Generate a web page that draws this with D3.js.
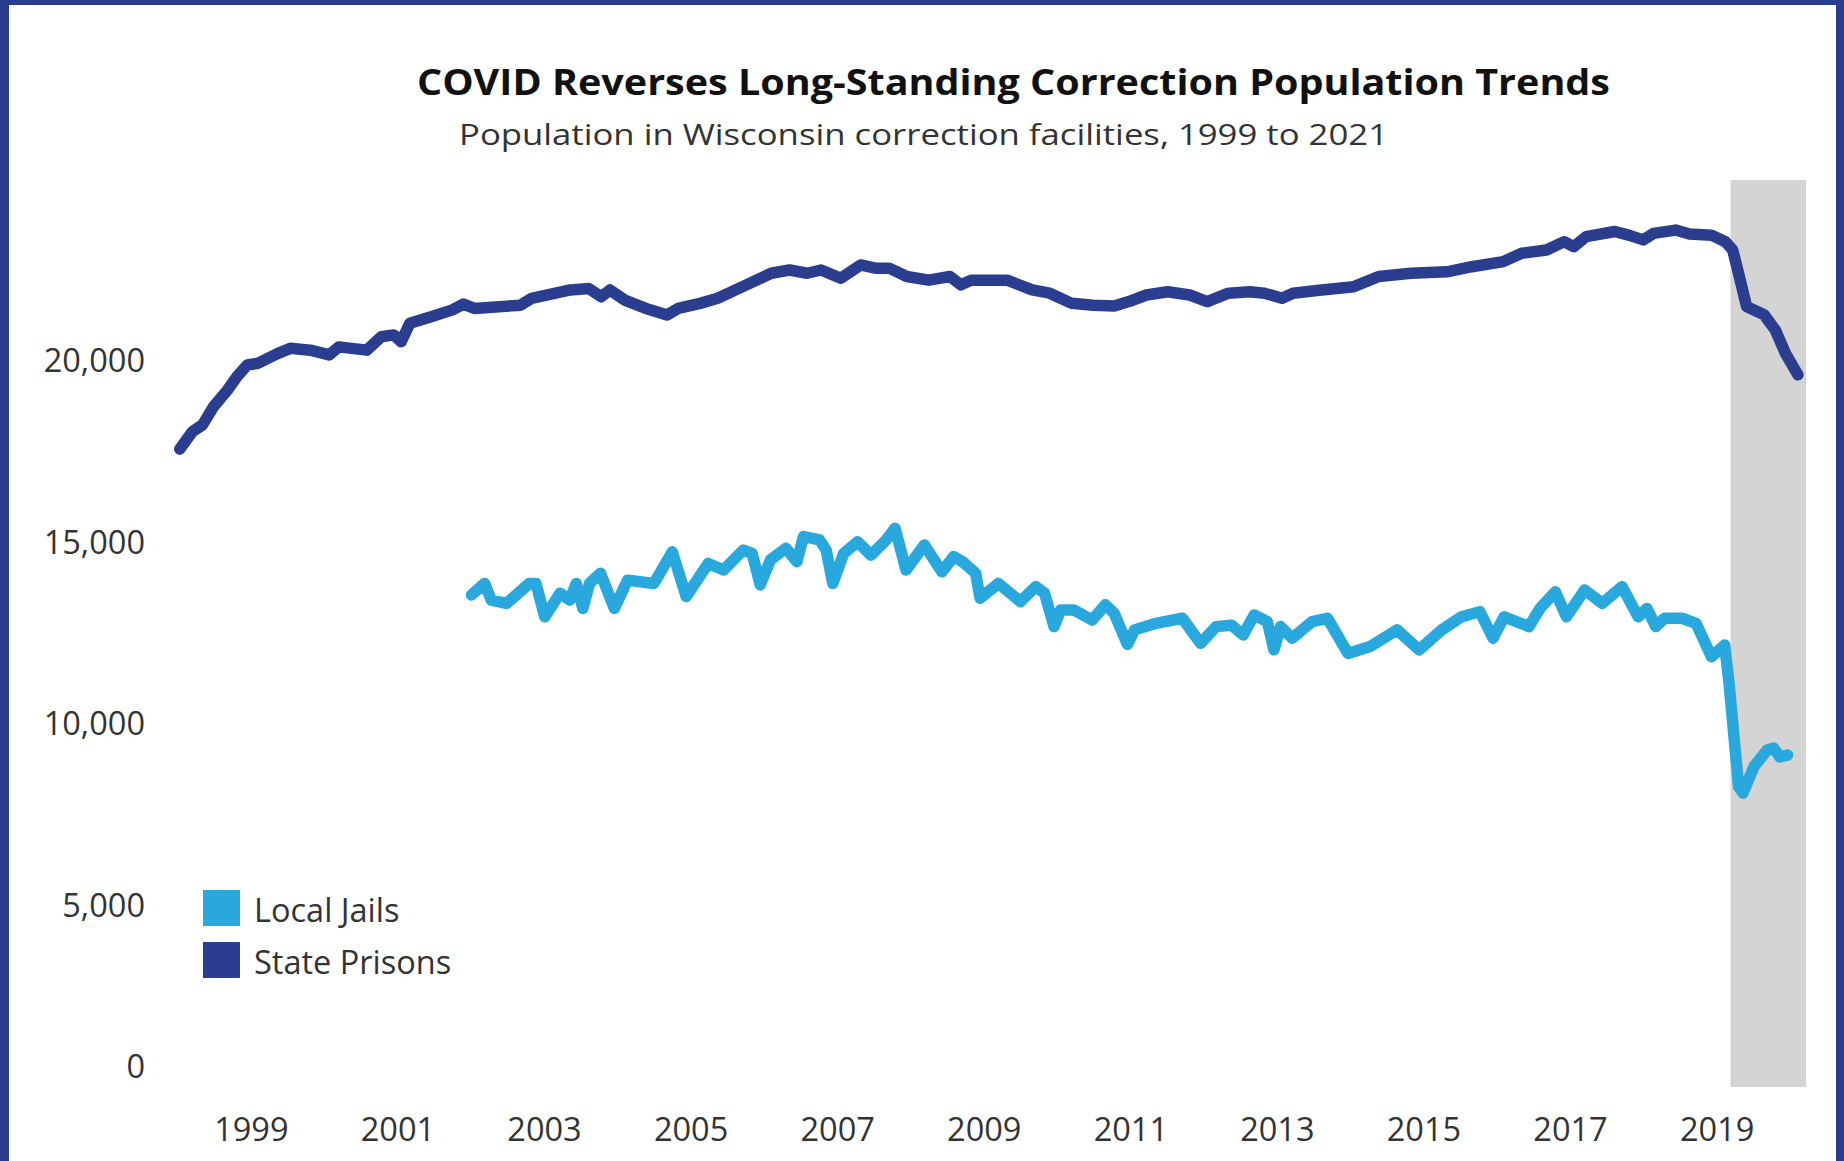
<!DOCTYPE html>
<html>
<head>
<meta charset="utf-8">
<script src="https://cdn.jsdelivr.net/npm/d3@7"></script>
<style>
  html, body { margin: 0; padding: 0; background: #ffffff; }
  svg { display: block; }
</style>
</head>
<body>
<svg id="chart" width="1844" height="1161"></svg>
<script>
// ---------------- DATA (axis-year frame, values = people) ----------------
const seriesNames = ["Local Jails", "State Prisons"];
const xTickYears = [1999, 2001, 2003, 2005, 2007, 2009, 2011, 2013, 2015, 2017, 2019];
const yTickValues = [0, 5000, 10000, 15000, 20000];
const covidBand = [2019.19, 2020.22];

const prisonDates = [1998.03, 1998.20, 1998.34, 1998.49, 1998.68, 1998.81, 1998.95, 1999.10, 1999.37, 1999.54,
  1999.81, 2000.07, 2000.20, 2000.58, 2000.78, 2000.95, 2001.05, 2001.17, 2001.46, 2001.75,
  2001.90, 2002.05, 2002.68, 2002.83, 2003.36, 2003.61, 2003.78, 2003.90, 2004.10, 2004.39,
  2004.68, 2004.83, 2005.13, 2005.37, 2005.71, 2006.10, 2006.35, 2006.59, 2006.78, 2007.05,
  2007.32, 2007.52, 2007.71, 2007.95, 2008.25, 2008.54, 2008.69, 2008.83, 2009.32, 2009.66,
  2009.90, 2010.20, 2010.49, 2010.78, 2010.98, 2011.22, 2011.51, 2011.81, 2012.05, 2012.34,
  2012.63, 2012.83, 2013.07, 2013.22, 2013.61, 2014.05, 2014.39, 2014.83, 2015.32, 2015.66,
  2016.09, 2016.34, 2016.68, 2016.92, 2017.05, 2017.22, 2017.61, 2017.80, 2018.00, 2018.14,
  2018.44, 2018.63, 2018.93, 2019.12, 2019.22, 2019.31, 2019.41, 2019.56, 2019.65, 2019.80,
  2019.94, 2020.11];
const prisonValues = [17580, 18060, 18250, 18750, 19210, 19580, 19900, 19950, 20220, 20360,
  20310, 20180, 20400, 20310, 20680, 20730, 20540, 21050, 21230, 21420,
  21580, 21460, 21550, 21740, 21970, 22010, 21780, 21970, 21690, 21460,
  21280, 21460, 21600, 21740, 22060, 22430, 22520, 22430, 22520, 22290,
  22660, 22570, 22570, 22340, 22240, 22340, 22110, 22240, 22240, 21970,
  21880, 21600, 21550, 21530, 21650, 21830, 21920, 21830, 21650, 21880,
  21920, 21880, 21740, 21880, 21970, 22060, 22340, 22430, 22470, 22610,
  22750, 22980, 23070, 23300, 23160, 23440, 23580, 23480, 23350, 23530,
  23620, 23510, 23480, 23300, 23070, 22340, 21510, 21370, 21280, 20870,
  20220, 19630];

const jailDates = [2002.01, 2002.19, 2002.28, 2002.49, 2002.80, 2002.89, 2003.01, 2003.22, 2003.35, 2003.44,
  2003.53, 2003.62, 2003.77, 2003.96, 2004.14, 2004.50, 2004.75, 2004.94, 2005.24, 2005.45,
  2005.72, 2005.84, 2005.95, 2006.09, 2006.30, 2006.45, 2006.54, 2006.76, 2006.85, 2006.94,
  2007.09, 2007.28, 2007.46, 2007.67, 2007.79, 2007.94, 2008.19, 2008.43, 2008.59, 2008.71,
  2008.89, 2008.95, 2009.20, 2009.50, 2009.71, 2009.83, 2009.96, 2010.05, 2010.23, 2010.48,
  2010.66, 2010.78, 2010.96, 2011.06, 2011.35, 2011.71, 2011.96, 2012.17, 2012.38, 2012.54,
  2012.69, 2012.87, 2012.96, 2013.05, 2013.21, 2013.48, 2013.69, 2013.97, 2014.27, 2014.64,
  2014.94, 2015.25, 2015.52, 2015.77, 2015.95, 2016.10, 2016.44, 2016.59, 2016.80, 2016.95,
  2017.20, 2017.44, 2017.71, 2017.93, 2018.05, 2018.17, 2018.29, 2018.53, 2018.72, 2018.93,
  2019.11, 2019.17, 2019.30, 2019.36, 2019.51, 2019.69, 2019.78, 2019.86, 2019.97];
const jailValues = [13560, 13880, 13420, 13330, 13880, 13880, 12960, 13610, 13420, 13880,
  13190, 13880, 14160, 13190, 13970, 13880, 14750, 13520, 14430, 14250,
  14800, 14710, 13840, 14530, 14850, 14480, 15170, 15080, 14800, 13880,
  14710, 15030, 14660, 15080, 15400, 14250, 14940, 14200, 14620, 14480,
  14160, 13470, 13880, 13380, 13790, 13610, 12690, 13150, 13150, 12870,
  13290, 13060, 12200, 12600, 12780, 12920, 12230, 12690, 12730, 12460,
  13010, 12830, 12050, 12690, 12370, 12830, 12920, 11950, 12140, 12600,
  12050, 12600, 12960, 13100, 12370, 12960, 12690, 13190, 13650, 12960,
  13700, 13330, 13790, 12960, 13190, 12690, 12920, 12920, 12780, 11860,
  12180, 11130, 8280, 8100, 8830, 9290, 9340, 9100, 9150];

// ---------------- STYLE ----------------
const navy = "#2a3d8f";
const lightBlue = "#29a8de";
const bandGray = "#d4d4d4";
const textColor = "#333333";
const fontFamily = "'Open Sans', 'Noto Sans', sans-serif";

const svg = d3.select("#chart");
const W = 1844, H = 1161;
const pane = { left: 160, right: 1806, top: 180, bottom: 1087 };

// background + frame
svg.append("rect").attr("x", 0).attr("y", 0).attr("width", W).attr("height", H).attr("fill", "#ffffff");
svg.append("rect").attr("x", 0).attr("y", 0).attr("width", 9).attr("height", H).attr("fill", navy);
svg.append("rect").attr("x", 0).attr("y", 0).attr("width", W).attr("height", 5).attr("fill", navy);
svg.append("rect").attr("x", 1836).attr("y", 0).attr("width", W - 1836).attr("height", H).attr("fill", navy);

// scales
const x = d3.scaleLinear().domain([1997.76, 2020.22]).range([pane.left, pane.right]);
const y = d3.scaleLinear().domain([0, 25000]).range([pane.bottom, pane.top]);

// COVID band
svg.append("rect")
  .attr("x", x(covidBand[0]))
  .attr("y", pane.top)
  .attr("width", x(covidBand[1]) - x(covidBand[0]))
  .attr("height", pane.bottom - pane.top)
  .attr("fill", bandGray);

// titles
svg.append("text")
  .attr("x", 417).attr("y", 95)
  .attr("font-family", fontFamily).attr("font-weight", 700).attr("font-size", 35)
  .attr("fill", "#111111")
  .attr("textLength", 1193).attr("lengthAdjust", "spacingAndGlyphs")
  .text("COVID Reverses Long-Standing Correction Population Trends");

svg.append("text")
  .attr("x", 459).attr("y", 145)
  .attr("font-family", fontFamily).attr("font-size", 29)
  .attr("fill", textColor)
  .attr("textLength", 929).attr("lengthAdjust", "spacingAndGlyphs")
  .text("Population in Wisconsin correction facilities, 1999 to 2021");

// axes
const xAxis = d3.axisBottom(x)
  .tickValues(xTickYears)
  .tickFormat(d => String(d))
  .tickSize(0)
  .tickPadding(31);
const gx = svg.append("g").attr("transform", `translate(0,${pane.bottom})`).call(xAxis);
gx.select(".domain").remove();
gx.selectAll("text").attr("font-family", fontFamily).attr("font-size", 32.5).attr("fill", textColor);

const yAxis = d3.axisLeft(y)
  .tickValues(yTickValues)
  .tickFormat(d3.format(","))
  .tickSize(0)
  .tickPadding(15);
const gy = svg.append("g").attr("transform", `translate(${pane.left},0)`).call(yAxis);
gy.select(".domain").remove();
gy.selectAll("text").attr("font-family", fontFamily).attr("font-size", 32.5).attr("fill", textColor);
// Tableau nudges the bottom label inside the pane
gy.selectAll(".tick").filter(d => d === 0).select("text").attr("y", -20);

// lines
const line = d3.line().x(d => x(d[0])).y(d => y(d[1]));
const prisonData = prisonDates.map((d, i) => [d, prisonValues[i]]);
const jailData = jailDates.map((d, i) => [d, jailValues[i]]);

svg.append("path").datum(prisonData)
  .attr("d", line).attr("fill", "none").attr("stroke", navy)
  .attr("stroke-width", 11.5).attr("stroke-linejoin", "round").attr("stroke-linecap", "round");
svg.append("path").datum(jailData)
  .attr("d", line).attr("fill", "none").attr("stroke", lightBlue)
  .attr("stroke-width", 11.5).attr("stroke-linejoin", "round").attr("stroke-linecap", "round");

// legend
const legendColors = [lightBlue, navy];
const legend = svg.append("g").attr("transform", "translate(203,890)");
seriesNames.forEach((name, i) => {
  legend.append("rect").attr("x", 0).attr("y", i * 52).attr("width", 37).attr("height", 36).attr("fill", legendColors[i]);
  legend.append("text").attr("x", 51).attr("y", i * 52 + 32)
    .attr("font-family", fontFamily).attr("font-size", 32.5).attr("fill", textColor)
    .text(name);
});
</script>
</body>
</html>
